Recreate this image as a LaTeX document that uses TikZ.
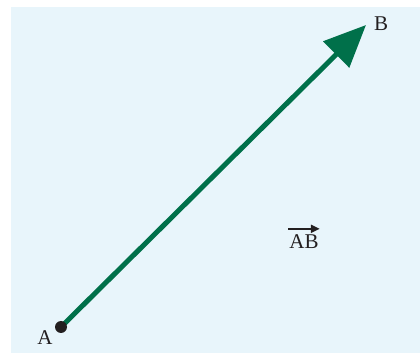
\documentclass[tikz,border=0pt]{standalone}
\usepackage{fontspec}
\setmainfont{Liberation Serif}
\usetikzlibrary{arrows.meta}
\definecolor{bgblue}{HTML}{E8F5FB}
\definecolor{vecgreen}{HTML}{00704A}
\definecolor{dotblack}{HTML}{231F20}
\begin{document}
\begin{tikzpicture}[x=1pt,y=1pt,
  lbl/.style={font=\fontsize{21}{24}\selectfont, text=dotblack, inner sep=0pt},
  vec/.style={draw=vecgreen, line width=5pt, -{Triangle[length=42pt,width=36pt]}}]
\useasboundingbox (0,0) rectangle (420,353);
\fill[bgblue] (11,0) rectangle (420,346);
\coordinate (A) at (61,26);
\coordinate (B) at (366,328);
\draw[vec] (A) -- (B);
\fill[dotblack] (A) circle (6);
\node[lbl] (la) at (45,15) {A};
\node[lbl] (lb) at (381,329) {B};
\node[lbl] (ab) at (304,111) {AB};
\draw[dotblack, line width=2pt, -{Triangle[length=9pt,width=8pt]}] ([yshift=6pt,xshift=-1pt]ab.north west) -- ([yshift=6pt,xshift=1pt]ab.north east);
\end{tikzpicture}
\end{document}
